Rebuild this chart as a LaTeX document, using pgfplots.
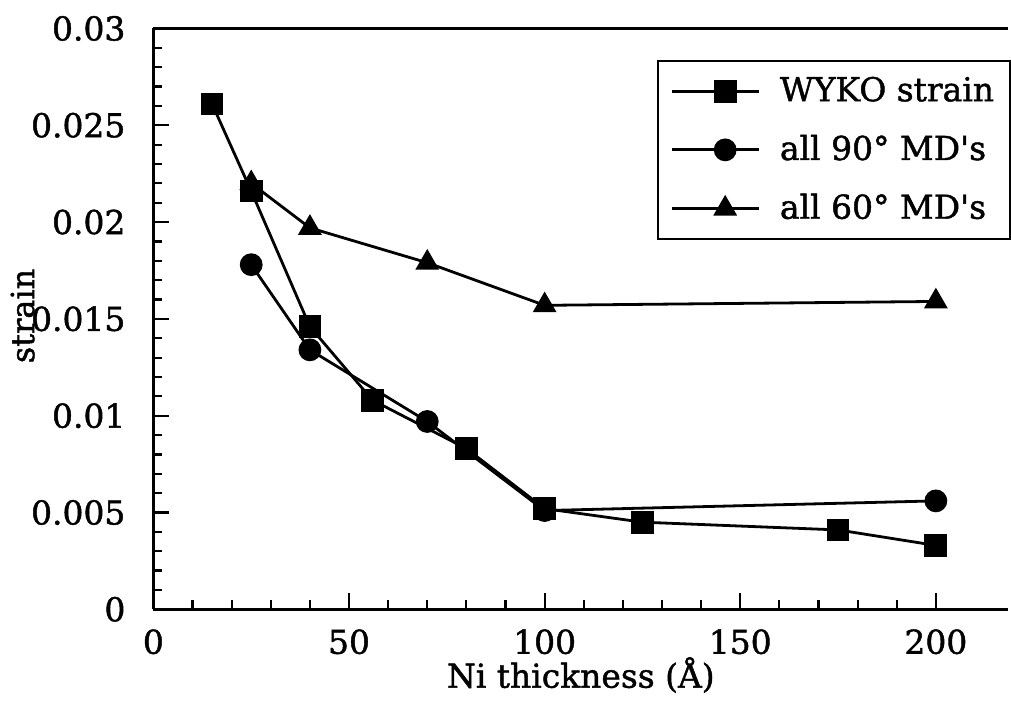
\documentclass[border=0pt]{standalone}
\usepackage{fontspec}
\setmainfont{DejaVu Serif}[RawFeature={embolden=1.3}]
\usepackage{pgfplots}
\pgfplotsset{compat=1.18}

% strain vs. Ni layer thickness
\pgfplotstableread{
x y
15 0.0261
25 0.0216
40 0.0146
56 0.0108
80 0.0083
100 0.0052
125 0.0045
175 0.0041
200 0.0033
}\wyko
\pgfplotstableread{
x y
25 0.0178
40 0.0134
70 0.0097
100 0.0051
200 0.0056
}\ninety
\pgfplotstableread{
x y
25 0.0220
40 0.0197
70 0.0179
100 0.0157
200 0.0159
}\sixty

\begin{document}
\fontsize{16}{19}\selectfont
\begin{tikzpicture}
\begin{axis}[
  name=ax,
  scale only axis,
  width=428.25pt, height=291pt,
  xmin=0, xmax=218.5, ymin=0, ymax=0.03,
  axis x line=box, axis y line=left,
  axis line style={-, line width=1.4pt},
  xtick pos=bottom, ytick pos=left,
  tick align=inside,
  xtick={0,50,100,150,200}, minor x tick num=4,
  ytick={0,0.005,0.01,0.015,0.02,0.025,0.03}, minor y tick num=4,
  major tick length=8pt, minor tick length=4.5pt,
  every tick/.style={black, line width=1.1pt},
  scaled y ticks=false,
  /pgf/number format/assume math mode=true,
  yticklabel style={/pgf/number format/fixed, /pgf/number format/precision=3, xshift=-8.5pt},
  xticklabel style={yshift=-4.5pt},
  tick label style={font=\fontsize{16.5}{19}\selectfont},
  xlabel={Ni thickness (Å)},
  ylabel={strain},
  xlabel style={at={(axis description cs:0.5,-0.113)}, anchor=center, font=\fontsize{16.5}{19}\selectfont},
  ylabel style={at={(axis description cs:-0.153,0.505)}, anchor=center, rotate=0, font=\fontsize{16}{19}\selectfont},
  legend style={at={(axis description cs:0.5896,0.946)}, anchor=north west,
    draw=black, line width=1pt, inner xsep=6pt, inner ysep=6pt,
    row sep=10.5pt, font=\fontsize{16.5}{19}\selectfont,
    /tikz/every odd column/.append style={column sep=8pt}},
  legend cell align=left,
  legend image code/.code={%
    \path (-10pt,0pt) -- (0pt,0pt);
    \draw[mark repeat=2, mark phase=2] plot coordinates {(0pt,0pt) (16.75pt,0pt) (33.5pt,0pt)};},
  every axis plot/.append style={black, line width=1.4pt, mark options={solid}},
]
\addplot[mark=square*, mark size=5pt] table {\wyko};
\addlegendentry{WYKO strain}
\addplot[mark=*, mark size=5pt] table {\ninety};
\addlegendentry{all 90° MD\textquotesingle s}
\addplot[mark=triangle*, mark size=5.5pt] table {\sixty};
\addlegendentry{all 60° MD\textquotesingle s}
\end{axis}
\path ([shift={(-76.5pt,-44.75pt)}]ax.south west) rectangle ([shift={(429pt,305.25pt)}]ax.south west);
\end{tikzpicture}
\end{document}
